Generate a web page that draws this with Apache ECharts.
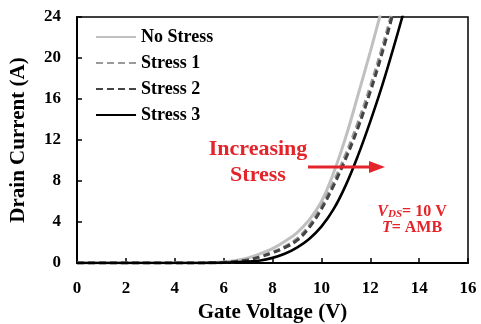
<!DOCTYPE html>
<html>
<head>
<meta charset="utf-8">
<script src="https://cdn.jsdelivr.net/npm/echarts@6/dist/echarts.min.js"></script>
<style>
  html, body { margin: 0; padding: 0; background: #fff; }
  #chart { width: 481px; height: 324px; }
</style>
</head>
<body>
<div id="chart"></div>
<script>
// Gate voltage sweep (V) and drain current (A) for each stress condition
const gateV    = [0, 1, 2, 3, 4, 5, 5.5, 6, 6.5, 7, 7.5, 8, 8.5, 9, 9.5, 10, 10.5, 11, 11.5, 12, 12.5, 13, 13.5];
const noStress = [0, 0, 0, 0, 0, 0, 0.03, 0.1, 0.25, 0.5, 0.9, 1.4, 2.1, 2.95, 4.2, 6.0, 8.8, 12.3, 16.4, 20.6, 25.0, null, null];
const stress1  = [0, 0, 0, 0, 0, 0, 0.02, 0.06, 0.15, 0.32, 0.62, 1.05, 1.6, 2.35, 3.65, 5.5, 7.9, 10.6, 13.7, 17.2, 21.1, 25.4, null];
const stress2  = [0, 0, 0, 0, 0, 0, 0.02, 0.05, 0.15, 0.3, 0.6, 1.0, 1.5, 2.2, 3.45, 5.25, 7.55, 10.2, 13.2, 16.7, 20.6, 25.0, null];
const stress3  = [0, 0, 0, 0, 0, 0, 0.01, 0.03, 0.08, 0.15, 0.25, 0.5, 0.9, 1.5, 2.35, 3.55, 5.25, 7.6, 10.5, 13.8, 17.4, 21.4, 25.6];

const seriesNames = ['No Stress', 'Stress 1', 'Stress 2', 'Stress 3'];
const xTicks = [0, 2, 4, 6, 8, 10, 12, 14, 16];
const yTicks = [0, 4, 8, 12, 16, 20, 24];

const serif = '"Liberation Serif", "Times New Roman", serif';
const red = '#e3242b';

function pairs(ys) {
  return gateV.map((x, i) => [x, ys[i]]);
}

function lineSeries(name, ys, color, type, width, z) {
  return {
    name: name,
    type: 'line',
    data: pairs(ys),
    showSymbol: false,
    symbol: 'none',
    smooth: 0.4,
    connectNulls: false,
    clip: true,
    z: z,
    lineStyle: { color: color, width: width, type: type },
    itemStyle: { color: color }
  };
}

const chart = echarts.init(document.getElementById('chart'), null, { renderer: 'canvas' });

chart.setOption({
  animation: false,
  backgroundColor: '#fff',
  grid: {
    left: 77, top: 17, right: 13, bottom: 61,
    outerBoundsMode: 'none',
    containLabel: false,
    show: true, borderColor: '#000', borderWidth: 1.5, backgroundColor: 'transparent'
  },
  legend: {
    data: seriesNames,
    orient: 'vertical',
    left: 90, top: 23,
    itemWidth: 40, itemHeight: 14, itemGap: 8,
    itemStyle: { opacity: 0 },
    textStyle: { fontFamily: serif, fontWeight: 'bold', fontSize: 18, color: '#000' }
  },
  xAxis: {
    type: 'value',
    min: xTicks[0], max: xTicks[xTicks.length - 1], interval: 2,
    name: 'Gate Voltage (V)',
    nameLocation: 'middle', nameGap: 37,
    nameTextStyle: { fontFamily: serif, fontWeight: 'bold', fontSize: 21, color: '#000' },
    axisLine: { onZero: false, lineStyle: { color: '#000', width: 2 } },
    axisTick: { inside: true, length: 5, lineStyle: { color: '#000', width: 1.5 } },
    axisLabel: {
      margin: 17, fontFamily: serif, fontWeight: 'bold', fontSize: 17, color: '#000',
      formatter: v => xTicks.includes(v) ? String(v) : ''
    },
    splitLine: { show: false }
  },
  yAxis: {
    type: 'value',
    min: yTicks[0], max: yTicks[yTicks.length - 1], interval: 4,
    name: 'Drain Current (A)',
    nameLocation: 'middle', nameGap: 48,
    nameTextStyle: { fontFamily: serif, fontWeight: 'bold', fontSize: 21, color: '#000' },
    axisLine: { onZero: false, lineStyle: { color: '#000', width: 2 } },
    axisTick: { inside: true, length: 5, lineStyle: { color: '#000', width: 1.5 } },
    axisLabel: {
      margin: 16, fontFamily: serif, fontWeight: 'bold', fontSize: 17, color: '#000',
      formatter: v => yTicks.includes(v) ? String(v) : ''
    },
    splitLine: { show: false }
  },
  series: [
    lineSeries(seriesNames[0], noStress, '#c0c0c0', 'solid', 3, 2),
    lineSeries(seriesNames[1], stress1, '#9a9a9a', [7, 4], 3, 3),
    lineSeries(seriesNames[2], stress2, '#444444', [7, 4], 3, 4),
    lineSeries(seriesNames[3], stress3, '#000000', 'solid', 2.6, 5)
  ],
  graphic: [
    {
      type: 'text', x: 258, y: 136, z: 10,
      style: {
        text: 'Increasing\nStress', align: 'center', verticalAlign: 'top',
        font: 'bold 22px ' + serif, lineHeight: 26, fill: red
      }
    },
    {
      type: 'line', z: 10,
      shape: { x1: 308, y1: 167, x2: 372, y2: 167 },
      style: { stroke: red, lineWidth: 3 }
    },
    {
      type: 'polygon', z: 10,
      shape: { points: [[369, 161], [385, 167], [369, 173]] },
      style: { fill: red }
    },
    {
      type: 'text', x: 412, y: 204, z: 10,
      style: {
        text: '{v|V}{s|DS}{n|= 10 V}\n{t|T}{n|= AMB}',
        align: 'center', verticalAlign: 'top',
        rich: {
          v: { font: 'italic bold 16px ' + serif, fill: red },
          s: { font: 'italic bold 11px ' + serif, fill: red, verticalAlign: 'bottom', padding: [6, 0, 0, 0] },
          n: { font: 'bold 16px ' + serif, fill: red },
          t: { font: 'italic bold 16px ' + serif, fill: red }
        },
        lineHeight: 16
      }
    }
  ]
});
</script>
</body>
</html>
